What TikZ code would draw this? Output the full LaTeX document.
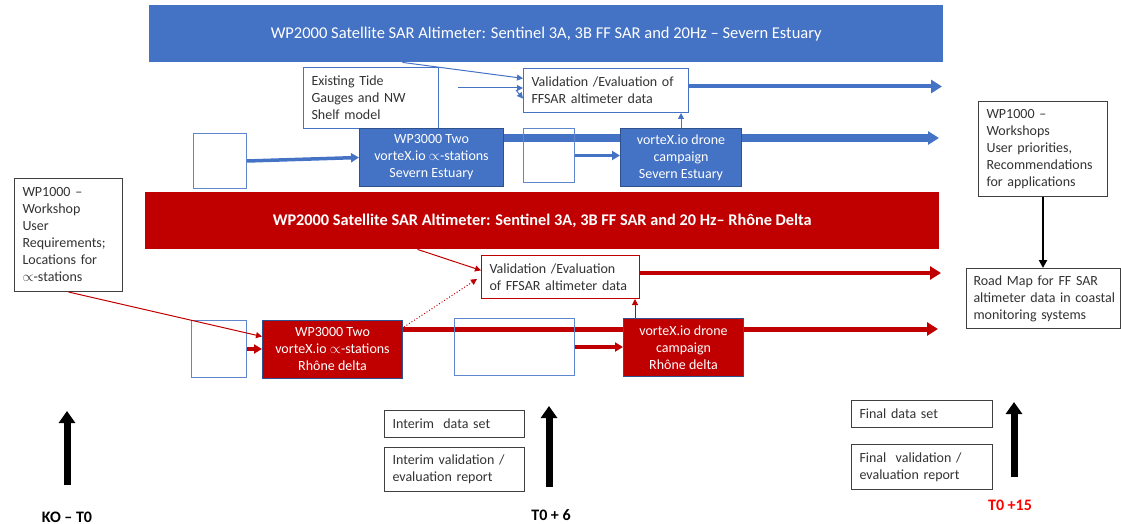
\documentclass[tikz,border=0pt]{standalone}
\usepackage{fontspec}
\setmainfont{Carlito}
\usetikzlibrary{arrows.meta,positioning,calc,backgrounds}
\usepackage{xcolor}
\definecolor{wpblue}{HTML}{4472C4}
\definecolor{wpred}{HTML}{C00000}
\definecolor{wpedge}{HTML}{2F528F}
\definecolor{boxtext}{HTML}{333333}

\tikzset{
  band/.style={rectangle, anchor=north west, inner sep=0pt, text=white},
  wpbox/.style={rectangle, anchor=north west, draw=wpedge, line width=1pt, fill=#1, text=white,
    align=center, inner sep=0pt, font=\fontsize{14}{17}\selectfont},
  tbox/.style={rectangle, anchor=north west, draw=#1, line width=1pt, fill=white, align=left,
    inner xsep=8pt, inner ysep=0pt, text=boxtext, font=\fontsize{14}{17}\selectfont},
  ebox/.style={rectangle, anchor=north west, draw=wpblue!85, line width=1pt, inner sep=0pt},
  bar/.style={line width=#1, -{Triangle[length=11pt,width=13pt]}},
  feed/.style={line width=#1, -{Triangle[length=8pt,width=9pt]}},
  link/.style={line width=1pt, -{Triangle[length=6pt,width=6pt]}},
  mile/.style={line width=7pt, -{Triangle[length=12pt,width=16pt]}},
  milelabel/.style={font=\fontsize{16}{19}\selectfont\bfseries},
}

\begin{document}
\begin{tikzpicture}[x=1pt,y=-1pt]
\useasboundingbox (0,0) rectangle (1121,524);

% WP2000 bands
\node[band, fill=wpblue, minimum width=794pt, minimum height=57pt, font=\fontsize{16.5}{19}\selectfont]
  (bandb) at (149,5) {WP2000 Satellite SAR Altimeter: Sentinel 3A, 3B FF SAR and 20Hz – Severn Estuary};
\node[band, fill=wpred, minimum width=794pt, minimum height=57pt, font=\fontsize{16.3}{19}\selectfont\bfseries]
  (bandr) at (145,192) {WP2000 Satellite SAR Altimeter: Sentinel 3A, 3B FF SAR and 20 Hz– Rhône Delta};

% Severn Estuary row
\node[tbox=wpblue, text width=119pt, minimum height=61pt] (tide) at (303,67)
  {Existing Tide\\Gauges and NW\\Shelf model};
\node[tbox=wpblue, text width=149pt, minimum height=44pt] (valb) at (523,68)
  {Validation /Evaluation of\\FFSAR altimeter data};
\node[ebox, minimum width=53pt, minimum height=55pt] (eb1) at (193,133) {};
\node[ebox, minimum width=51pt, minimum height=54pt] (eb2) at (523,128) {};
\node[wpbox=wpblue, minimum width=144pt, minimum height=58pt] (wp3b) at (359,128)
  {WP3000 Two\\vorteX.io $\propto$-stations\\Severn Estuary};
\node[wpbox=wpblue, minimum width=121pt, minimum height=58pt] (droneb) at (620,128)
  {vorteX.io drone\\campaign\\Severn Estuary};

% Rhone delta row
\node[tbox=wpred, text width=142pt, minimum height=43pt] (valr) at (481,255)
  {Validation /Evaluation\\of FFSAR altimeter data};
\node[ebox, minimum width=55pt, minimum height=57pt] (er1) at (191,320) {};
\node[ebox, minimum width=120pt, minimum height=57pt] (er2) at (454,318) {};
\node[wpbox=wpred, minimum width=140pt, minimum height=58pt] (wp3r) at (262,320)
  {WP3000 Two\\vorteX.io $\propto$-stations\\Rhône delta};
\node[wpbox=wpred, minimum width=120pt, minimum height=58pt] (droner) at (623,318)
  {vorteX.io drone\\campaign\\Rhône delta};

% WP1000 workshops
\node[tbox=black!75, text width=92pt, minimum height=113pt] (wp1a) at (14,178)
  {WP1000 –\\Workshop\\User\\Requirements;\\Locations for\\$\propto$-stations};
\node[tbox=black!75, text width=113pt, minimum height=95pt] (wp1b) at (978,101)
  {WP1000 –\\Workshops\\User priorities,\\Recommendations\\for applications};
\node[tbox=black!75, inner xsep=7pt, text width=140pt, minimum height=60pt] (road) at (966,268)
  {Road Map for FF SAR\\\mbox{altimeter data in coastal}\\monitoring systems};

% deliverables
\node[tbox=black!75, text width=124pt, minimum height=27pt] (intd) at (384,410) {Interim~~data set};
\node[tbox=black!75, text width=124pt, minimum height=44pt] (intr) at (384,447)
  {Interim validation /\\evaluation report};
\node[tbox=black!75, text width=125pt, minimum height=27pt] (find) at (851,400) {Final data set};
\node[tbox=black!75, text width=125pt, minimum height=45pt] (finr) at (851,444)
  {Final~~validation /\\evaluation report};

% milestones
\node[milelabel] (ko) at (67,517) {KO – T0};
\node[milelabel] (tsix) at (551,515) {T0 + 6};
\node[milelabel, text=red] (tfift) at (1010,505) {T0 +15};
\coordinate (kobase) at (67,485);
\coordinate (tsixbase) at (549,487);
\coordinate (tfiftbase) at (1014,477);
\draw[mile] (kobase) -- ++(0,-74);
\draw[mile] (tsixbase) -- ++(0,-81);
\draw[mile] (tfiftbase) -- ++(0,-75);

% free ends of the long arrows
\coordinate (endvb) at (942,86.5);
\coordinate (endbb) at (939,138);
\coordinate (endvr) at (941,273);
\coordinate (endbr) at (938,329);
\coordinate (tidein) at (458,88);
\coordinate (tidein2) at (516,90);
\coordinate (droneup) at ($(droner.north west)+(12,0)$);

\begin{scope}[on background layer]
  \draw[bar=7pt, wpblue] (wp3b.east |- endbb) -- (endbb);
  \draw[bar=5pt, wpred] (wp3r.east |- endbr) -- (endbr);
\end{scope}
\draw[bar=4pt, wpblue] (valb.east |- endvb) -- (endvb);
\draw[bar=4pt, wpred] (valr.east |- endvr) -- (endvr);

% feeds
\draw[feed=3.5pt, wpblue] (eb1.east) -- (wp3b.west);
\draw[feed=3.5pt, wpblue] (eb2.east) -- (eb2.east -| droneb.west);
\draw[feed=4pt, wpred] (er1.east) -- (er1.east -| wp3r.west);
\draw[feed=4pt, wpred] (er2.east) -- (er2.east -| droner.west);

% validation links
\draw[link, wpblue] ($(bandb.south west)!0.319!(bandb.south east)$) -- ($(valb.north west)!0.23!(valb.south west)$);
\draw[link, wpblue] (tidein) -- (tidein -| valb.west);
\draw[link, wpblue] (tidein2) -- ($(valb.north west)!0.68!(valb.south west)$);
\draw[link, wpblue] (droneb.north) -- (droneb.north |- valb.south);
\draw[link, wpred] ($(bandr.south west)!0.343!(bandr.south east)$) -- ($(valr.north west)!0.35!(valr.south west)$);
\draw[link, wpred, dotted] ($(wp3r.north east)+(1,7)$) -- ($(valr.west)+(-4,2)$);
\draw[link, wpred] (droneup) -- (droneup |- valr.south);
\draw[link, wpred] (wp1a.south) -- ($(wp3r.north west)!0.28!(wp3r.south west)$);
\draw[line width=2.5pt, -{Triangle[length=8pt,width=8pt]}] (wp1b.south) -- (wp1b.south |- road.north);
\end{tikzpicture}
\end{document}
